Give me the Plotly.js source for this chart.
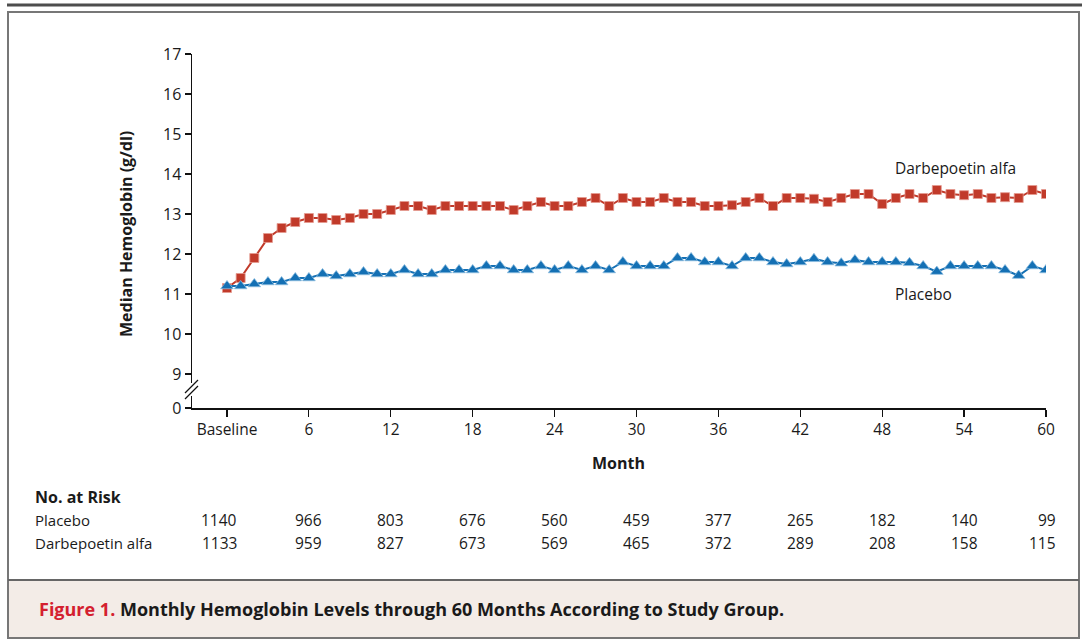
<!DOCTYPE html>
<html>
<head>
<meta charset="utf-8">
<script src="https://cdn.plot.ly/plotly-3.0.1.min.js"></script>
<style>
html,body{margin:0;padding:0;background:#fff;}
#chart{width:1082px;height:641px;}
</style>
</head>
<body>
<div id="chart"></div>
<script>
// ---- data ----
const months = [0,1,2,3,4,5,6,7,8,9,10,11,12,13,14,15,16,17,18,19,20,21,22,23,24,25,26,27,28,29,30,31,32,33,34,35,36,37,38,39,40,41,42,43,44,45,46,47,48,49,50,51,52,53,54,55,56,57,58,59,60];
const darbepoetin = [11.15,11.4,11.9,12.4,12.65,12.8,12.9,12.9,12.85,12.9,13.0,13.0,13.1,13.2,13.2,13.1,13.2,13.2,13.2,13.2,13.2,13.1,13.2,13.3,13.2,13.2,13.3,13.4,13.2,13.4,13.3,13.3,13.4,13.3,13.3,13.2,13.2,13.22,13.3,13.4,13.2,13.4,13.4,13.38,13.3,13.4,13.5,13.5,13.25,13.4,13.5,13.4,13.6,13.5,13.47,13.5,13.4,13.42,13.4,13.6,13.5];
const placebo = [11.2,11.2,11.25,11.3,11.3,11.4,11.4,11.5,11.45,11.5,11.55,11.5,11.5,11.6,11.5,11.5,11.6,11.6,11.6,11.7,11.7,11.6,11.6,11.7,11.6,11.7,11.6,11.7,11.6,11.8,11.7,11.7,11.7,11.9,11.9,11.8,11.8,11.7,11.9,11.9,11.8,11.75,11.8,11.88,11.8,11.77,11.85,11.8,11.8,11.8,11.78,11.7,11.56,11.7,11.7,11.7,11.7,11.6,11.46,11.7,11.6];
const xTickVals = [0,6,12,18,24,30,36,42,48,54,60];
const xTickText = ['Baseline','6','12','18','24','30','36','42','48','54','60'];
const yTickVals = [8.15,9,10,11,12,13,14,15,16,17];
const yTickText = ['0','9','10','11','12','13','14','15','16','17'];
const riskMonths = [0,6,12,18,24,30,36,42,48,54,60];
const riskPlacebo = [1140,966,803,676,560,459,377,265,182,140,99];
const riskDarbe = [1133,959,827,673,569,465,372,289,208,158,115];
const riskLabels = ['Placebo','Darbepoetin alfa'];

// ---- geometry helpers (pixel -> paper) ----
const L=192, R=1046, T=54, B=408;
const px = x => (x-L)/(R-L);
const py = y => (B-y)/(B-T);

const FONT = 'Open Sans, Noto Sans, sans-serif';
const RED = '#c13a2a', BLUE = '#1470b4', TXT = '#1a1a1a';

const traces = [
  {x: months, y: darbepoetin, mode:'lines+markers', type:'scatter',
   line:{color:RED, width:2}, marker:{symbol:'square', size:9, color:RED, line:{color:'#e59a90', width:0.8}},
   hoverinfo:'x+y', showlegend:false},
  {x: months, y: placebo, mode:'lines+markers', type:'scatter',
   line:{color:BLUE, width:2}, marker:{symbol:'triangle-up', size:11, color:BLUE, line:{color:'#8cbce0', width:0.8}},
   hoverinfo:'x+y', showlegend:false}
];

const annotations = [
  {xref:'paper', yref:'paper', x:px(126), y:py(234), text:'<b>Median Hemoglobin (g/dl)</b>', textangle:-90, showarrow:false,
   font:{family:FONT, size:16, color:TXT}, xanchor:'center', yanchor:'middle'},
  {xref:'paper', yref:'paper', x:px(618), y:py(463), text:'<b>Month</b>', showarrow:false,
   font:{family:FONT, size:16, color:TXT}, xanchor:'center', yanchor:'middle'},
  {xref:'x', yref:'y', x:53.4, y:14.15, text:'Darbepoetin alfa', showarrow:false,
   font:{family:FONT, size:15.5, color:TXT}, xanchor:'center', yanchor:'middle'},
  {xref:'x', yref:'y', x:51, y:11.0, text:'Placebo', showarrow:false,
   font:{family:FONT, size:15.5, color:TXT}, xanchor:'center', yanchor:'middle'},
  {xref:'paper', yref:'paper', x:px(33), y:py(497), text:'<b>No. at Risk</b>', showarrow:false,
   font:{family:FONT, size:16, color:TXT}, xanchor:'left', yanchor:'middle'},
  {xref:'paper', yref:'paper', x:px(33), y:py(520), text:riskLabels[0], showarrow:false,
   font:{family:FONT, size:15, color:TXT}, xanchor:'left', yanchor:'middle'},
  {xref:'paper', yref:'paper', x:px(33), y:py(543), text:riskLabels[1], showarrow:false,
   font:{family:FONT, size:15, color:TXT}, xanchor:'left', yanchor:'middle'},
  {xref:'paper', yref:'paper', x:px(37), y:py(609),
   text:'<b><span style="color:#d4202f">Figure 1.</span> Monthly Hemoglobin Levels through 60 Months According to Study Group.</b>',
   showarrow:false, font:{family:FONT, size:18, color:TXT}, xanchor:'left', yanchor:'middle'}
];
function riskRow(vals, ypix){
  vals.forEach((v,i)=>{
    const last = i===vals.length-1, first = i===0;
    annotations.push({xref:'x', yref:'paper', x:riskMonths[i], y:py(ypix), text:String(v), showarrow:false,
      font:{family:FONT, size:15.5, color:TXT}, xanchor: last?'right':'center', xshift: last?12:(first?-8:0), yanchor:'middle'});
  });
}
riskRow(riskPlacebo, 520);
riskRow(riskDarbe, 543);

const shapes = [
  // top rule
  {type:'line', xref:'paper', yref:'paper', x0:px(7), x1:px(1082), y0:py(5), y1:py(5), line:{color:'#4d4d4d', width:3}},
  // frame
  {type:'rect', xref:'paper', yref:'paper', x0:px(8), x1:px(1079), y0:py(12), y1:py(638), line:{color:'#777', width:2}, fillcolor:'rgba(0,0,0,0)'},
  // caption band
  {type:'rect', xref:'paper', yref:'paper', x0:px(9), x1:px(1078), y0:py(581), y1:py(637), line:{width:0}, fillcolor:'#f3ece7', layer:'below'},
  {type:'line', xref:'paper', yref:'paper', x0:px(8), x1:px(1079), y0:py(580), y1:py(580), line:{color:'#666', width:2}},
  // axis break
  {type:'rect', xref:'paper', yref:'paper', x0:px(188), x1:px(196), y0:py(383), y1:py(396), line:{width:0}, fillcolor:'#fff', layer:'above'},
  {type:'line', xref:'paper', yref:'paper', x0:px(185), x1:px(198), y0:py(393), y1:py(380), line:{color:'#111', width:1.3}},
  {type:'line', xref:'paper', yref:'paper', x0:px(185), x1:px(198), y0:py(399), y1:py(386), line:{color:'#111', width:1.3}}
];

const layout = {
  width:1082, height:641,
  margin:{l:L, r:1082-R, t:T, b:641-B, pad:0},
  paper_bgcolor:'#fff', plot_bgcolor:'#fff',
  font:{family:FONT, size:15, color:TXT},
  showlegend:false,
  xaxis:{range:[(L-227)/13.65, 60], tickvals:xTickVals, ticktext:xTickText, showgrid:false, zeroline:false,
         showline:true, linecolor:'#111', linewidth:1.5, ticks:'outside', ticklen:7, tickcolor:'#111', tickwidth:1.2,
         tickfont:{family:FONT, size:15.5, color:TXT}, fixedrange:true},
  yaxis:{range:[8.15, 17], tickvals:yTickVals, ticktext:yTickText, showgrid:false, zeroline:false,
         showline:true, linecolor:'#111', linewidth:1.5, ticks:'outside', ticklen:6, tickcolor:'#111', tickwidth:1.2,
         tickfont:{family:FONT, size:16, color:TXT}, fixedrange:true},
  annotations: annotations,
  shapes: shapes
};

Plotly.newPlot('chart', traces, layout, {displayModeBar:false, staticPlot:true});
</script>
</body>
</html>
